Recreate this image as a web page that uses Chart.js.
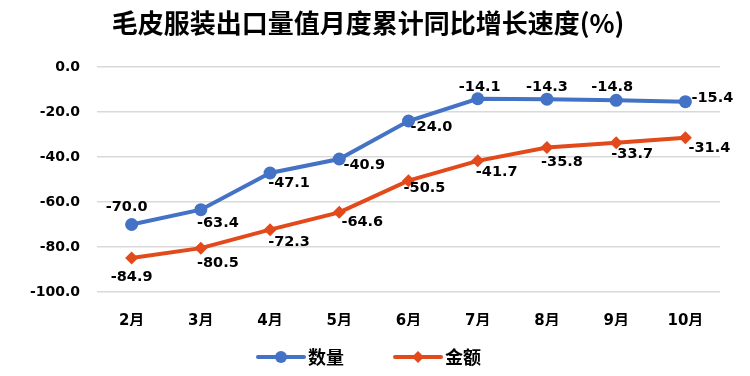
<!DOCTYPE html>
<html>
<head>
<meta charset="utf-8">
<script src="https://cdn.jsdelivr.net/npm/chart.js@4"></script>
<style>
  html, body { margin: 0; padding: 0; background: #fff; }
  #wrap { width: 750px; height: 376px; }
</style>
</head>
<body>
<div id="wrap"><canvas id="chart" width="750" height="376"></canvas></div>
<script>
// data
const months = ['2月', '3月', '4月', '5月', '6月', '7月', '8月', '9月', '10月'];
const quantity = [-70.0, -63.4, -47.1, -40.9, -24.0, -14.1, -14.3, -14.8, -15.4];
const amount = [-84.9, -80.5, -72.3, -64.6, -50.5, -41.7, -35.8, -33.7, -31.4];
const yTicks = [0, -20, -40, -60, -80, -100];

const titleText = '毛皮服装出口量值月度累计同比增长速度(%)';
const blue = '#4472C4';
const orange = '#E2491B';
const font = '"DejaVu Sans", "Noto Sans CJK SC", sans-serif';

// where each value label sits relative to its point (dx, dy)
const quantityLabelPos = [[-5, -17], [17, 14], [19, 10], [25, 6], [23, 6], [2, -11], [0, -12], [-4, -13], [27, -3]];
const amountLabelPos = [[0, 19], [17, 15], [19, 13], [23, 10], [16, 8], [19, 11], [15, 15], [16, 11], [24, 11]];

const extras = {
    id: 'extras',
    afterDatasetsDraw(chart) {
        const ctx = chart.ctx;
        ctx.save();
        // value labels
        ctx.font = 'bold 14.5px ' + font;
        ctx.fillStyle = '#000';
        ctx.textAlign = 'center';
        ctx.textBaseline = 'middle';
        [quantityLabelPos, amountLabelPos].forEach((pos, di) => {
            const meta = chart.getDatasetMeta(di);
            const values = chart.data.datasets[di].data;
            meta.data.forEach((pt, i) => {
                ctx.fillText(values[i].toFixed(1), pt.x + pos[i][0], pt.y + pos[i][1]);
            });
        });

        // title
        ctx.font = 'bold 26px "Noto Sans CJK SC", sans-serif';
        ctx.fillText(titleText, 368, 23);

        // legend
        const items = [
            { label: '数量', color: blue, style: 'circle', x: 258 },
            { label: '金额', color: orange, style: 'rectRot', x: 395 }
        ];
        const ly = 357;
        items.forEach(it => {
            ctx.strokeStyle = it.color;
            ctx.lineWidth = 4;
            ctx.lineCap = 'round';
            ctx.beginPath();
            ctx.moveTo(it.x, ly);
            ctx.lineTo(it.x + 46, ly);
            ctx.stroke();
            ctx.fillStyle = it.color;
            Chart.helpers.drawPoint(ctx, { pointStyle: it.style, radius: 6, borderWidth: 0 }, it.x + 23, ly);
            ctx.fillStyle = '#000';
            ctx.textAlign = 'left';
            ctx.font = 'bold 18px "Noto Sans CJK SC", sans-serif';
            ctx.fillText(it.label, it.x + 50, ly);
        });
        ctx.restore();
    }
};

new Chart(document.getElementById('chart'), {
    type: 'line',
    data: {
        labels: months,
        datasets: [
            {
                label: '数量',
                data: quantity,
                borderColor: blue,
                backgroundColor: blue,
                borderWidth: 4,
                pointStyle: 'circle',
                pointRadius: 6.5,
                pointBorderWidth: 0,
                tension: 0
            },
            {
                label: '金额',
                data: amount,
                borderColor: orange,
                backgroundColor: orange,
                borderWidth: 4,
                pointStyle: 'rectRot',
                pointRadius: 6.5,
                pointBorderWidth: 0,
                tension: 0
            }
        ]
    },
    options: {
        responsive: false,
        animation: false,
        layout: { padding: { top: 67, right: 30, bottom: 50, left: 0 } },
        plugins: {
            legend: { display: false },
            title: { display: false },
            tooltip: { enabled: false }
        },
        scales: {
            x: {
                offset: true,
                grid: { display: false },
                border: { display: false },
                ticks: {
                    color: '#000',
                    font: { family: font, size: 15, weight: 'bold' },
                    padding: 12
                },
                afterFit(scale) { scale.height = 34; }
            },
            y: {
                min: -100,
                max: 0,
                afterBuildTicks(scale) { scale.ticks = yTicks.map(v => ({ value: v })); },
                grid: { color: '#D9D9D9', lineWidth: 1.5, drawTicks: false },
                border: { display: false },
                ticks: {
                    color: '#000',
                    font: { family: font, size: 14, weight: 'bold' },
                    padding: 17,
                    callback: v => v.toFixed(1)
                },
                afterFit(scale) { scale.width = 97; }
            }
        }
    },
    plugins: [extras]
});
</script>
</body>
</html>
